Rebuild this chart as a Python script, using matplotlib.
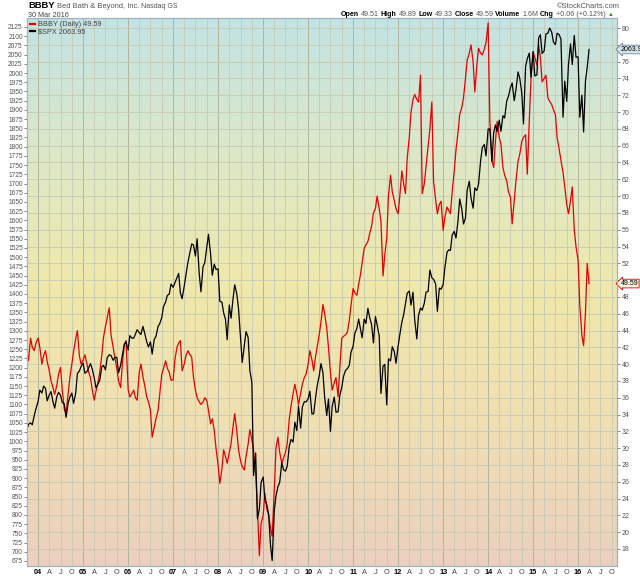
import matplotlib
matplotlib.use("Agg")
import matplotlib.pyplot as plt
from matplotlib.colors import LinearSegmentedColormap
import numpy as np
import pandas as pd

plt.rcParams['font.family'] = ['Liberation Sans', 'DejaVu Sans']

# semi-monthly samples, Oct 2003 .. Mar 2016, last point is 30 Mar 2016
dates = list(pd.date_range('2003-10-01', '2016-03-15', freq='SMS')) + [pd.Timestamp('2016-03-30')]

# S&P 500 ($SPX), left axis
spx_2003 = [1030, 1046, 1050, 1045, 1070, 1089]
spx_2004 = [1108, 1139, 1131, 1150, 1144, 1110, 1126, 1135, 1107, 1090, 1121, 1133,
            1125, 1106, 1101, 1065, 1104, 1120, 1131, 1103, 1130, 1184, 1191, 1203]
spx_2005 = [1212, 1185, 1189, 1200, 1211, 1197, 1172, 1145, 1156, 1165, 1202, 1206,
            1194, 1227, 1235, 1233, 1220, 1228, 1228, 1186, 1207, 1233, 1264, 1270]
spx_2006 = [1248, 1287, 1280, 1280, 1291, 1303, 1295, 1290, 1312, 1294, 1270, 1256,
            1270, 1237, 1277, 1285, 1312, 1320, 1336, 1366, 1378, 1396, 1400, 1427]
spx_2007 = [1418, 1430, 1445, 1456, 1403, 1387, 1421, 1452, 1486, 1508, 1536, 1533,
            1503, 1550, 1455, 1406, 1474, 1485, 1527, 1562, 1509, 1451, 1481, 1467]
spx_2008 = [1468, 1380, 1378, 1349, 1331, 1276, 1370, 1334, 1386, 1425, 1400, 1360,
            1280, 1214, 1260, 1298, 1282, 1192, 1161, 907, 968, 790, 816, 888]
spx_2009 = [903, 843, 826, 800, 720, 676, 811, 852, 877, 888, 942, 923,
            919, 932, 987, 1005, 998, 1052, 1029, 1096, 1036, 1093, 1108, 1107]
spx_2010 = [1115, 1136, 1074, 1075, 1115, 1150, 1178, 1211, 1187, 1120, 1070, 1115,
            1027, 1095, 1120, 1079, 1080, 1125, 1146, 1176, 1193, 1197, 1206, 1242]
spx_2011 = [1258, 1293, 1307, 1332, 1306, 1281, 1332, 1320, 1361, 1337, 1315, 1267,
            1339, 1316, 1286, 1130, 1204, 1209, 1099, 1224, 1218, 1257, 1244, 1212]
spx_2012 = [1258, 1289, 1324, 1343, 1374, 1402, 1408, 1370, 1405, 1330, 1278, 1342,
            1362, 1356, 1375, 1405, 1407, 1465, 1444, 1440, 1427, 1353, 1416, 1413]
spx_2013 = [1426, 1472, 1513, 1520, 1518, 1560, 1570, 1552, 1597, 1658, 1631, 1590,
            1606, 1682, 1706, 1661, 1633, 1688, 1681, 1698, 1762, 1798, 1806, 1775]
spx_2014 = [1848, 1848, 1760, 1838, 1859, 1841, 1872, 1842, 1884, 1878, 1924, 1937,
            1960, 1973, 1925, 1955, 2003, 1985, 1946, 1862, 2018, 2039, 2054, 1989]
spx_2015 = [2058, 1992, 1995, 2096, 2104, 2053, 2060, 2106, 2108, 2122, 2111, 2084,
            2077, 2108, 2104, 2092, 1880, 1978, 1923, 2023, 2079, 2023, 2102, 2043]
spx_2016 = [2044, 1880, 1940, 1840, 1978, 2015, 2063.95]

# Bed Bath & Beyond (BBBY), right axis
bbby_2003 = [41.5, 40.4, 43.1, 42.0, 41.6, 42.5]
bbby_2004 = [43.1, 42.0, 40.0, 41.0, 41.6, 40.3, 39.2, 38.0, 37.2, 36.4, 37.5, 38.8,
             39.6, 37.0, 34.6, 34.1, 36.5, 38.4, 40.0, 41.5, 43.0, 44.0, 41.0, 40.0]
bbby_2005 = [40.5, 41.1, 40.0, 39.0, 38.4, 37.0, 35.7, 36.8, 37.8, 39.0, 41.0, 43.2,
             44.5, 45.5, 46.7, 43.5, 42.0, 40.8, 39.5, 38.0, 37.2, 40.0, 42.3, 42.8]
bbby_2006 = [37.0, 36.1, 36.5, 36.9, 36.0, 35.7, 39.0, 40.0, 38.5, 37.5, 36.1, 35.5,
             34.5, 31.3, 32.5, 33.5, 34.5, 36.5, 38.8, 39.5, 40.4, 39.5, 39.0, 38.1]
bbby_2007 = [38.1, 40.5, 42.0, 42.5, 42.8, 39.2, 40.0, 41.0, 41.6, 41.2, 40.8, 38.5,
             36.9, 36.0, 35.5, 35.2, 35.5, 36.0, 35.7, 34.5, 32.9, 33.5, 32.1, 30.0]
bbby_2008 = [28.0, 25.8, 27.5, 29.8, 29.0, 28.2, 29.5, 30.5, 32.5, 34.1, 32.0, 29.8,
             28.5, 27.8, 27.4, 29.0, 30.5, 32.2, 31.0, 29.8, 27.0, 23.0, 17.2, 21.0]
bbby_2009 = [22.0, 24.6, 22.7, 22.0, 20.5, 19.5, 25.0, 30.0, 31.3, 29.5, 28.2, 28.8,
             29.5, 30.5, 33.5, 35.0, 36.5, 37.6, 36.5, 35.2, 36.5, 37.6, 38.4, 38.8]
bbby_2010 = [40.0, 41.6, 40.5, 39.2, 40.8, 42.0, 43.5, 45.0, 47.1, 46.0, 44.3, 42.0,
             39.0, 36.9, 37.8, 38.4, 36.1, 39.5, 43.1, 43.3, 43.5, 43.8, 45.2, 47.0]
bbby_2011 = [49.0, 48.5, 48.2, 49.5, 50.6, 52.0, 53.8, 54.2, 54.6, 55.5, 56.5, 58.0,
             58.5, 60.0, 58.5, 57.0, 50.5, 53.0, 55.0, 60.0, 62.5, 60.5, 59.5, 58.5]
bbby_2012 = [57.9, 60.0, 63.0, 61.5, 60.3, 64.5, 67.0, 70.0, 71.5, 72.1, 71.5, 71.2,
             74.4, 60.3, 61.5, 63.5, 65.8, 68.0, 71.2, 61.8, 59.5, 57.9, 59.0, 59.4]
bbby_2013 = [55.9, 57.5, 58.7, 58.3, 57.9, 60.5, 63.0, 65.5, 67.5, 69.7, 70.5, 71.7,
             74.0, 76.2, 77.0, 78.0, 76.0, 72.4, 75.5, 77.6, 77.0, 76.8, 77.5, 78.3]
bbby_2014 = [80.6, 68.9, 64.2, 63.4, 66.5, 68.9, 67.0, 66.2, 63.4, 62.5, 61.8, 60.5,
             59.9, 56.7, 59.5, 61.8, 64.2, 65.0, 66.5, 67.0, 67.3, 62.6, 69.0, 74.0]
bbby_2015 = [77.2, 76.5, 75.6, 78.0, 76.5, 73.6, 74.0, 74.4, 71.7, 71.3, 70.9, 70.3,
             69.7, 67.0, 65.5, 64.2, 62.8, 61.1, 59.0, 57.9, 59.5, 61.1, 56.0, 54.0]
bbby_2016 = [52.4, 47.0, 43.4, 42.2, 46.1, 52.0, 49.59]

spx = (spx_2003 + spx_2004 + spx_2005 + spx_2006 + spx_2007 + spx_2008 + spx_2009 +
       spx_2010 + spx_2011 + spx_2012 + spx_2013 + spx_2014 + spx_2015 + spx_2016)
bbby = (bbby_2003 + bbby_2004 + bbby_2005 + bbby_2006 + bbby_2007 + bbby_2008 + bbby_2009 +
        bbby_2010 + bbby_2011 + bbby_2012 + bbby_2013 + bbby_2014 + bbby_2015 + bbby_2016)

year_ticks = list(range(2004, 2017))
quarter_labels = {4: 'A', 7: 'J', 10: 'O'}
right_ticks = list(range(18, 81, 2))
hidden_right = (50, 78)   # covered by the last-value tags

W, H = 640, 576
fig = plt.figure(figsize=(W / 100, H / 100), dpi=100)
fig.patch.set_facecolor('white')

def fx(px):
    return px / W

def fy(py):
    return 1 - py / H

rect = [fx(27), fy(566), fx(617) - fx(27), fy(18) - fy(566)]

# background gradient: teal -> yellow -> peach
bg = fig.add_axes(rect, zorder=0)
cmap = LinearSegmentedColormap.from_list('sc', ['#c3e3e3', '#dde8c8', '#f0e8aa', '#efdfb4', '#ebd0bf'])
grad = np.linspace(0, 1, 256).reshape(-1, 1)
bg.imshow(grad, aspect='auto', cmap=cmap, extent=[0, 1, 0, 1], origin='upper')
bg.axis('off')

ax_b = fig.add_axes(rect, zorder=1)
ax_b.patch.set_visible(False)
ax_s = ax_b.twinx()
ax_s.set_zorder(2)
ax_s.patch.set_visible(False)

line_b, = ax_b.plot(dates, bbby, color='#e60000', lw=0.9)
line_s, = ax_s.plot(dates, spx, color='black', lw=0.9)

ax_b.set_xlim(pd.Timestamp('2003-10-03'), pd.Timestamp('2016-11-12'))
ax_b.set_ylim(15.97, 81.2)
ax_s.set_ylim(661.4, 2149.4)

# right axis (BBBY)
ax_b.yaxis.tick_right()
ax_b.set_yticks(right_ticks, labels=['' if v in hidden_right else str(v) for v in right_ticks])
ax_b.set_yticks(np.arange(17, 81, 1), minor=True)
ax_b.tick_params(axis='y', which='major', labelsize=5, colors='#555555', length=2, width=0.5, pad=1.5)
ax_b.tick_params(axis='y', which='minor', length=1, width=0.5, colors='#8899aa')

# left axis (SPX)
ax_s.yaxis.tick_left()
ax_s.set_yticks(np.arange(675, 2126, 25))
ax_s.tick_params(axis='y', labelsize=4.8, colors='#555555', length=2, width=0.5, pad=1)

# x axis: years bold, quarters as month initials
major_x = [pd.Timestamp(f'{y}-01-01') for y in year_ticks]
minor_x = [pd.Timestamp(f'{y}-{m:02d}-01') for y in year_ticks for m in quarter_labels]
ax_b.set_xticks(major_x, labels=[f'{y % 100:02d}' for y in year_ticks], fontweight='bold')
ax_b.set_xticks(minor_x, labels=[quarter_labels[d.month] for d in minor_x], minor=True)
ax_b.tick_params(axis='x', which='both', labelsize=5.3, length=0, pad=2)
ax_b.tick_params(axis='x', which='minor', colors='#444444')

ax_b.grid(axis='x', which='major', color='#b2b49c', lw=0.7)
ax_b.grid(axis='x', which='minor', color='#c6cab6', lw=0.6)
ax_b.grid(axis='y', which='major', color='#c6cab6', lw=0.6)
ax_b.set_axisbelow(True)

for a in (ax_b, ax_s):
    for sp in a.spines.values():
        sp.set_color('#9db4c6')
        sp.set_linewidth(0.8)

# legend
leg = ax_s.legend([line_b, line_s], ['BBBY (Daily) 49.59', r'\$SPX 2063.95'],
                  loc='upper left', bbox_to_anchor=(0.0, 1.0), frameon=False, fontsize=5.3,
                  handlelength=0.7, handletextpad=0.4, labelspacing=0.05, borderaxespad=0.3,
                  borderpad=0.1)
for ln in leg.get_lines():
    ln.set_linewidth(1.6)
for t in leg.get_texts():
    t.set_color('#444444')

# last-value tags on the right axis
ax_s.text(1.006, spx[-1], '2063.95', transform=ax_s.get_yaxis_transform(), fontsize=5,
          va='center', ha='left', clip_on=False,
          bbox=dict(boxstyle='larrow,pad=0.12', fc='#d4e2ec', ec='#6f8598', lw=0.6))
ax_b.text(1.006, bbby[-1], '49.59', transform=ax_b.get_yaxis_transform(), fontsize=5,
          va='center', ha='left', clip_on=False,
          bbox=dict(boxstyle='larrow,pad=0.12', fc='#f6f0dc', ec='#e00000', lw=0.6))

# header rows, laid out piece by piece on a common baseline
renderer = fig.canvas.get_renderer()

def row(parts, x0, y, gap=2.0):
    x = x0
    for s, w, c, size in parts:
        t = fig.text(fx(x), fy(y), s, fontsize=size, fontweight=w, color=c,
                     ha='left', va='baseline')
        x = t.get_window_extent(renderer).x1 + gap

row([('BBBY', 'bold', 'black', 6.8), ('Bed Bath & Beyond, Inc.', 'normal', '#555555', 5.4),
     ('Nasdaq GS', 'normal', '#555555', 5.0)], 28, 8.5)
fig.text(fx(28), fy(17), '30 Mar 2016', fontsize=5.2, color='#444444', ha='left', va='baseline')
sz = 5.15
row([('Open', 'bold', 'black', sz), ('49.51', 'normal', '#555555', sz),
     ('High', 'bold', 'black', sz), ('49.89', 'normal', '#555555', sz),
     ('Low', 'bold', 'black', sz), ('49.33', 'normal', '#555555', sz),
     ('Close', 'bold', 'black', sz), ('49.59', 'normal', '#555555', sz),
     ('Volume', 'bold', 'black', sz), ('1.6M', 'normal', '#555555', sz),
     ('Chg', 'bold', 'black', sz), ('+0.06 (+0.12%)', 'normal', '#555555', sz),
     ('\u25b2', 'normal', '#2e8b2e', 4.2)], 341, 16.5, gap=1.9)
fig.text(fx(620), fy(8), '\u00a9StockCharts.com', fontsize=5.4, color='#555555',
         ha='right', va='baseline')

fig.savefig('out.png', dpi=100)
